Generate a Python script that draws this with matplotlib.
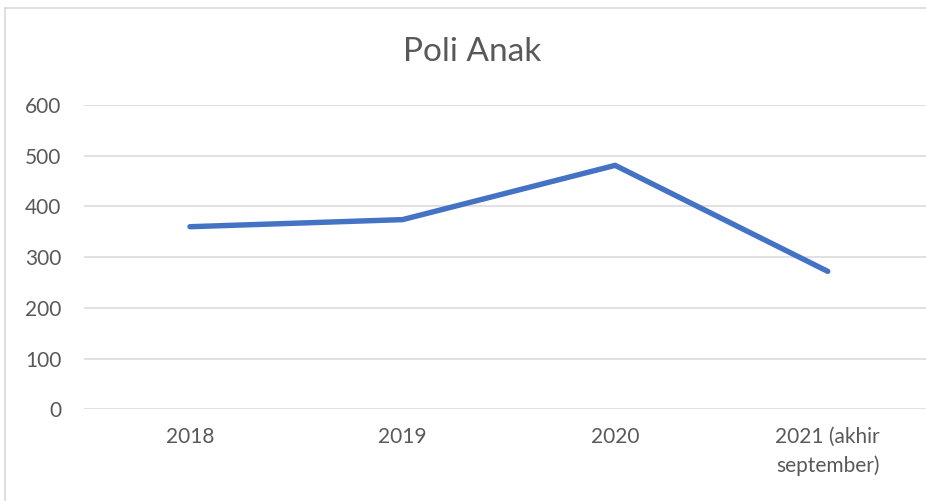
import matplotlib
matplotlib.use("Agg")
import matplotlib.pyplot as plt
from matplotlib.lines import Line2D

categories = ["2018", "2019", "2020", "2021 (akhir\nseptember)"]
values = [360, 374, 481, 272]
yticks = [0, 100, 200, 300, 400, 500, 600]
title = "Poli Anak"

plt.rcParams['font.family'] = ['Lato', 'DejaVu Sans']
TXT = '#595959'

fig = plt.figure(figsize=(9.26, 5.01), dpi=100)
W, H = 926, 501
ax = fig.add_axes([83.7 / W, 1 - 409.3 / H, (934 - 83.7) / W, (409.3 - 105) / H])
x = list(range(len(categories)))
ax.plot(x, values, color='#4472C4', lw=3.9, solid_capstyle='round', solid_joinstyle='round', zorder=3)
ax.set_xlim(-0.5, len(categories) - 0.5)
ax.set_ylim(0, 600)
ax.set_yticks(yticks)
ax.set_yticklabels([str(v) for v in yticks])
ax.set_xticks(x)
ax.set_xticklabels(categories, linespacing=1.5, va='top')
ax.tick_params(axis='y', length=0, pad=16, labelsize=15, labelcolor=TXT)
ax.tick_params(axis='x', length=0, pad=13, labelsize=15, labelcolor=TXT)
ax.grid(axis='y', color='#D9D9D9', lw=1.1)
ax.set_axisbelow(True)
for s in ax.spines.values():
    s.set_visible(False)

fig.text(472 / W, 1 - 52 / H, title, ha='center', va='center', fontsize=24, color=TXT)

# chart border
fig.add_artist(Line2D([4.5 / W, 4.5 / W], [0, 1 - 7.5 / H], color='#D9D9D9', lw=1.2))
fig.add_artist(Line2D([4.5 / W, 1], [1 - 7.5 / H, 1 - 7.5 / H], color='#D9D9D9', lw=1.2))

fig.savefig('out.png', dpi=100)
